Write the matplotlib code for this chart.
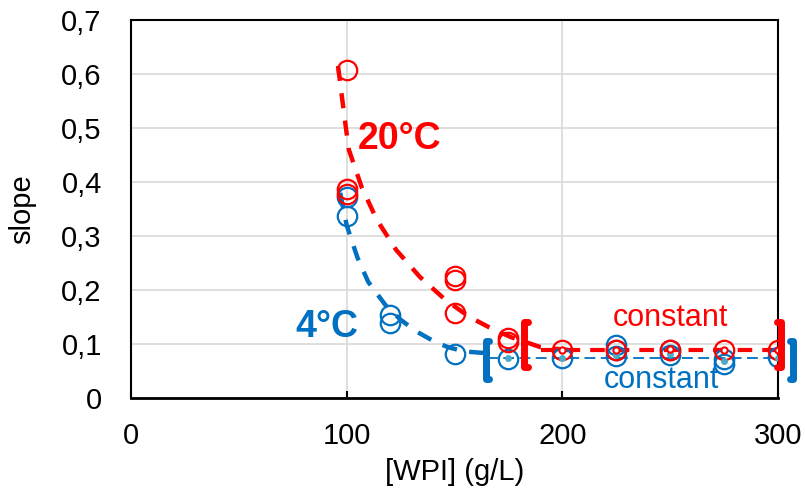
import matplotlib
matplotlib.use("Agg")
import matplotlib.pyplot as plt
from matplotlib.ticker import FuncFormatter

plt.rcParams["font.family"] = ["Liberation Sans", "DejaVu Sans"]

#data
red_x = [100, 100, 100, 150, 150, 150, 175, 175, 200, 225, 250, 275, 300]
red_y = [0.607, 0.387, 0.378, 0.226, 0.218, 0.158, 0.112, 0.104, 0.089, 0.089, 0.088, 0.089, 0.088]
blue_x = [100, 100, 120, 120, 150, 175, 200, 225, 225, 225, 250, 250, 275, 275, 300]
blue_y = [0.372, 0.337, 0.153, 0.138, 0.082, 0.073, 0.075, 0.098, 0.088, 0.078, 0.088, 0.080, 0.073, 0.063, 0.076]

#mean points in the constant region (small center dots)
red_mean_x = [200, 225, 250, 275, 300]
red_mean_y = [0.089, 0.089, 0.090, 0.089, 0.088]
blue_mean_x = [175, 200, 225, 250, 275, 300]
blue_mean_y = [0.075, 0.075, 0.080, 0.082, 0.068, 0.075]

#hand drawn trend curves
red_fit_x = [96, 99, 101, 107, 114, 123, 134, 146, 157, 166, 176, 190, 205]
red_fit_y = [0.615, 0.52, 0.46, 0.39, 0.33, 0.274, 0.224, 0.181, 0.15, 0.131, 0.113, 0.094, 0.088]
blue_fit_x = [97, 100, 105, 110, 118, 125, 132, 140, 147, 155, 165]
blue_fit_y = [0.38, 0.32, 0.26, 0.215, 0.172, 0.145, 0.124, 0.106, 0.094, 0.086, 0.083]

red_const = 0.088
blue_const = 0.075
red_const_range = [190, 300]
blue_const_range = [165, 300]

RED = "#ff0000"
BLUE = "#0070c0"
TEAL = "#4bacc6"

fig = plt.figure(figsize=(8.05, 5.0), dpi=100)
ax = fig.add_axes([0.1627, 0.204, 0.8038, 0.756])

ax.set_xlim(0, 300)
ax.set_ylim(0, 0.7)
ax.set_xticks([0, 100, 200, 300])
ax.set_yticks([0, 0.1, 0.2, 0.3, 0.4, 0.5, 0.6, 0.7])
ax.yaxis.set_major_formatter(FuncFormatter(lambda v, p: "0" if v == 0 else f"{v:.1f}".replace(".", ",")))
ax.grid(True, color="#d9d9d9", linewidth=1.2)
ax.set_axisbelow(True)
for s in ax.spines.values():
    s.set_linewidth(1.5)
ax.spines["bottom"].set_linewidth(2)

ax.tick_params(axis="y", length=0, pad=21, labelsize=21)
ax.tick_params(axis="x", direction="in", length=5, width=1.5, pad=17, labelsize=21)

#trend curves
ax.plot(red_fit_x, red_fit_y, color=RED, lw=3.2, dashes=(3.4, 2.8), zorder=3)
ax.plot(blue_fit_x, blue_fit_y, color=BLUE, lw=3.2, dashes=(3.4, 2.8), zorder=3)
ax.plot(red_const_range, [red_const, red_const], color=RED, lw=3, dashes=(3.5, 2.4), zorder=3)
ax.plot(blue_const_range, [blue_const, blue_const], color=BLUE, lw=1.3, dashes=(6, 3), zorder=3)

#measured points
ax.plot(blue_x, blue_y, "o", ms=14, mfc="none", mec=BLUE, mew=1.6, zorder=4)
ax.plot(red_x, red_y, "o", ms=14, mfc="none", mec=RED, mew=1.6, zorder=5)
ax.plot(blue_mean_x, blue_mean_y, "o", ms=4, mfc=TEAL, mec=TEAL, zorder=6)
ax.plot(red_mean_x, red_mean_y, "o", ms=4.5, mfc="white", mec=RED, mew=1.5, zorder=6)

#brackets around the constant regions
def bracket(x0, y0, y1, w, color, side):
    xs = [x0 + side * w, x0, x0, x0 + side * w]
    ys = [y1, y1, y0, y0]
    ax.plot(xs, ys, color=color, lw=5, solid_capstyle="round", solid_joinstyle="round",
            clip_on=False, zorder=7)

bracket(164.5, 0.035, 0.105, 1.5, BLUE, 1)
bracket(307, 0.035, 0.105, 1.5, BLUE, -1)
bracket(182, 0.058, 0.14, 2.0, RED, 1)
bracket(301.5, 0.058, 0.14, 2.0, RED, -1)

#annotations
ax.text(124.5, 0.48, "20°C", color=RED, fontsize=27, fontweight="bold", ha="center", va="center")
ax.text(91, 0.131, "4°C", color=BLUE, fontsize=27, fontweight="bold", ha="center", va="center")
ax.text(250, 0.148, "constant", color=RED, fontsize=22, ha="center", va="center")
ax.text(246, 0.033, "constant", color=BLUE, fontsize=22, ha="center", va="center")

ax.set_xlabel("[WPI] (g/L)", fontsize=21, labelpad=6)
ax.set_ylabel("slope", fontsize=21, labelpad=18)

plt.savefig("out.png", dpi=100)
